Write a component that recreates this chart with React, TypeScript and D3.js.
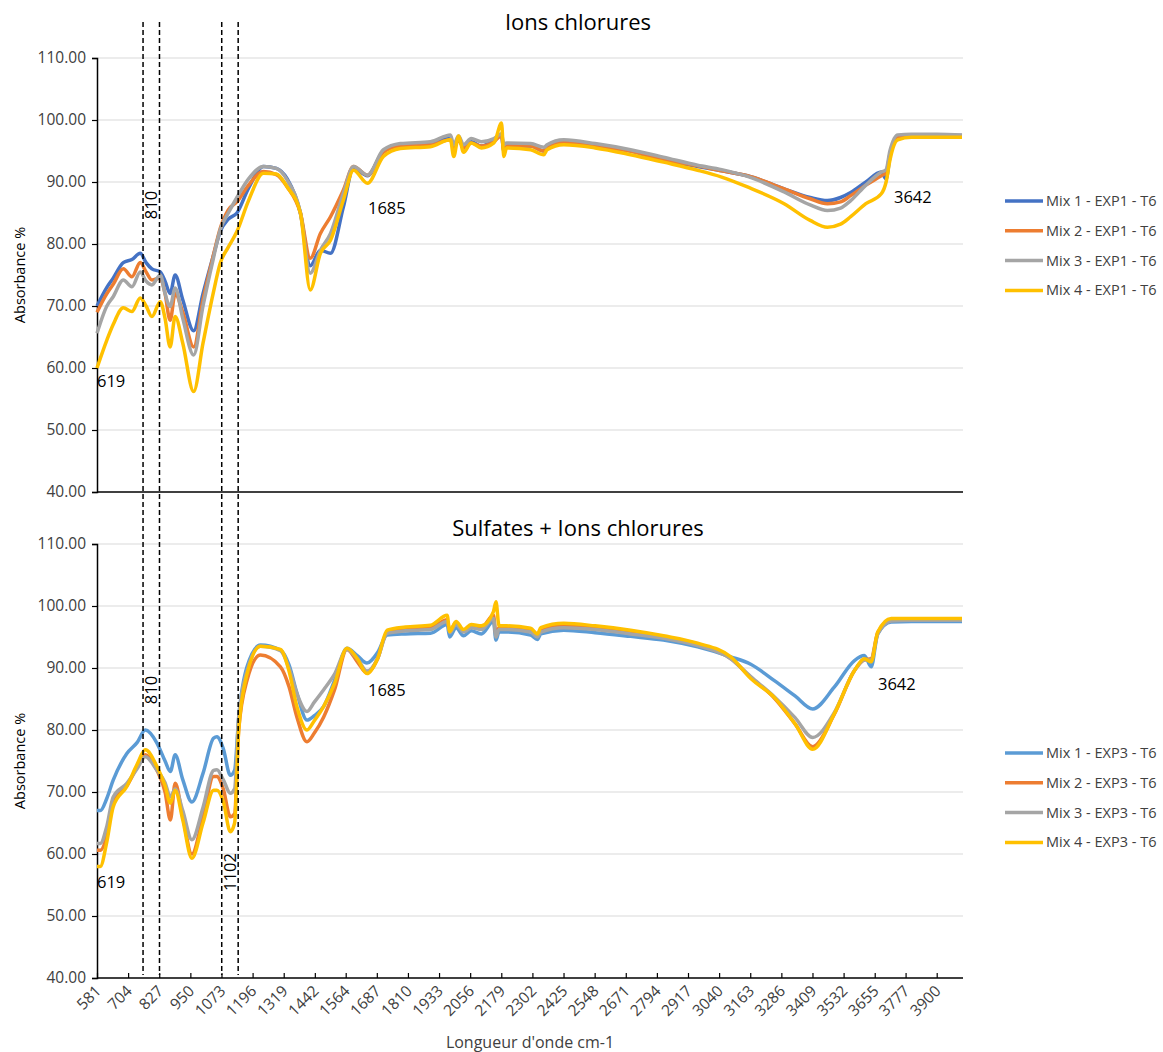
import React, { useEffect, useRef } from "react";
import * as d3 from "d3";

// wavenumbers (cm-1) for the top panel
const waveTop = [581, 620, 645, 685, 719, 752, 775, 798, 831, 850, 870, 890, 920, 963, 1000, 1040, 1068, 1100, 1134, 1180, 1239, 1290, 1333, 1385, 1424, 1464, 1504, 1555, 1595, 1650, 1713, 1780, 1899, 1978, 1991, 2010, 2030, 2060, 2100, 2150, 2180, 2189, 2200, 2295, 2347, 2360, 2426, 2550, 2690, 2820, 2955, 3050, 3152, 3297, 3400, 3468, 3520, 3560, 3620, 3681, 3700, 3715, 3746, 3800, 3900, 4000];

const exp1Mix1 = [70, 73, 74.5, 77, 77.5, 78.5, 77, 76, 75.5, 74, 72, 75, 71, 66, 72, 78, 82, 84, 85, 89, 92.5, 92.2, 90.5, 85, 76.5, 79, 78.5, 86, 92.3, 91, 95, 96, 96.3, 97, 95.5, 97, 95.5, 96.5, 95.8, 96.8, 97.5, 95, 95.8, 95.8, 95, 95.6, 96.5, 95.8, 95, 93.5, 92.5, 91.8, 91, 88.9, 87.5, 87, 87.5, 88.3, 90, 91.6, 90.5, 94, 97.4, 97.6, 97.6, 97.5];
const exp1Mix2 = [69, 72, 73.5, 76, 74.7, 77, 75.5, 74.2, 74.5, 72, 67.7, 72, 69, 63.4, 71, 78, 82.5, 85.5, 86.8, 89.5, 91.7, 91.2, 89.2, 85, 77.7, 81.7, 84.4, 88.7, 92.5, 91.1, 94.8, 95.8, 96, 96.8, 95.5, 96.8, 95.5, 96.3, 95.8, 96.5, 97.5, 95, 95.8, 95.8, 95, 95.5, 96.4, 95.8, 95, 93.6, 92.6, 91.8, 91, 88.9, 87.3, 86.5, 86.8, 87.8, 89.5, 91, 91.5, 94.5, 97.3, 97.5, 97.5, 97.4];
const exp1Mix3 = [65.6, 70, 71.5, 74.2, 73.1, 75.5, 74, 73.4, 75, 72, 69.9, 72.9, 68, 62.1, 70, 77.5, 82.3, 85, 87.5, 90.5, 92.5, 92.2, 90.3, 85, 75.3, 79, 81.7, 88.2, 92.5, 91.1, 95.2, 96.2, 96.5, 97.6, 96, 97.4, 96, 97, 96.5, 97, 97.8, 96, 96.3, 96.2, 95.6, 96, 96.8, 96.2, 95.2, 94, 92.7, 92, 90.9, 88.4, 86.3, 85.4, 85.8, 87, 89.5, 91.6, 92, 95, 97.6, 97.7, 97.7, 97.6];
const exp1Mix4 = [60, 64.5, 67, 69.7, 69.1, 71.3, 70, 68.3, 70.7, 68, 63.4, 68.3, 64, 56.2, 64, 72, 76.9, 79.5, 82, 87, 91.4, 91.3, 89.2, 85, 72.6, 78.5, 80.6, 87.1, 91.9, 89.8, 94.1, 95.4, 95.7, 96.8, 94.1, 97.4, 94.8, 96.3, 95.5, 96.3, 99.5, 94.1, 95.5, 95.2, 94.4, 95.2, 96, 95.5, 94.4, 93.2, 91.9, 90.8, 89.2, 86.5, 83.8, 82.7, 83.2, 84.4, 86.5, 88.1, 90, 93.5, 96.8, 97.2, 97.2, 97.2];

// wavenumbers (cm-1) for the bottom panel
const waveBottom = [581, 594, 620, 645, 699, 740, 772, 818, 850, 871, 890, 920, 956, 1000, 1042, 1055, 1080, 1108, 1125, 1141, 1174, 1227, 1306, 1340, 1371, 1411, 1440, 1477, 1520, 1569, 1610, 1648, 1690, 1728, 1800, 1899, 1965, 1975, 2000, 2030, 2060, 2100, 2148, 2158, 2170, 2200, 2295, 2322, 2335, 2426, 2550, 2690, 2820, 2955, 3086, 3165, 3257, 3340, 3410, 3495, 3575, 3614, 3641, 3667, 3720, 3800, 3900, 4000];

const exp3Mix1 = [67, 67, 69, 71.9, 76.2, 78, 80, 77.9, 75, 73.3, 76, 72, 68.4, 73, 78.7, 78.9, 77, 72.7, 73.5, 82, 90.2, 93.7, 92.9, 90.5, 86, 81.6, 82.3, 83.8, 88, 93.2, 92, 90.8, 92.5, 95.3, 95.5, 95.6, 97, 95, 96.5, 95.2, 96, 95.5, 97.5, 94.5, 95.8, 95.8, 95.3, 94.6, 95.5, 96.1, 95.7, 95.1, 94.5, 93.4, 91.8, 90.6, 88, 85.5, 83.4, 86.9, 91.2, 92, 90.2, 95.5, 97.4, 97.5, 97.5, 97.5];
const exp3Mix2 = [60.6, 60.6, 63, 68.5, 71, 74, 76, 73.5, 70, 65.5, 71.4, 66, 60, 66, 72.5, 72.5, 70.5, 66, 66.5, 80, 88, 92.1, 90.2, 87, 82.1, 78.1, 79.5, 82.1, 86.5, 93, 91, 89.2, 91.5, 95.8, 96.3, 96.5, 97.8, 96, 97.3, 96, 96.8, 96.5, 98.5, 95.5, 96.5, 96.5, 96.2, 95.5, 96, 96.8, 96.4, 95.8, 95, 93.8, 91.5, 88.5, 85.2, 81, 77.3, 82.5, 89.6, 91.3, 91.5, 95.7, 97.8, 97.9, 97.9, 97.9];
const exp3Mix3 = [61.7, 61.7, 64.5, 69.2, 71.4, 73.8, 75.7, 73.5, 71.5, 69.2, 70.5, 67, 62.3, 67.5, 73.5, 73.6, 72, 69.8, 70.5, 82, 89.5, 93.5, 92.8, 90, 85.9, 83, 84.5, 86.5, 89, 93, 91.5, 89.5, 91.5, 95.6, 96, 96.2, 97.5, 95.7, 97, 95.8, 96.5, 96.2, 98, 95, 96.2, 96.2, 95.8, 95, 95.8, 96.5, 96.2, 95.5, 94.8, 93.6, 91.5, 88.6, 85.4, 82, 78.8, 82.8, 89.6, 91.3, 91.3, 95.5, 97.6, 97.7, 97.7, 97.7];
const exp3Mix4 = [58, 58, 62, 67.6, 70.9, 74.5, 76.8, 74.1, 71, 68.2, 70.3, 65.5, 59.3, 65, 70.3, 70.3, 68.5, 63.6, 65, 80, 89, 93.5, 93, 89.5, 83.8, 80, 81.5, 83.8, 87.5, 93.2, 91.5, 89.1, 91.5, 96.1, 96.6, 96.9, 98.5, 95.9, 97.5, 96.2, 97, 96.8, 99.1, 100.7, 96.8, 96.8, 96.4, 95.5, 96.5, 97.2, 96.8, 96.1, 95.2, 94, 91.8, 88.3, 85.3, 81, 76.9, 82.6, 89.6, 91.5, 91, 95.8, 98, 98, 98, 98];

const xTicks = [581, 704, 827, 950, 1073, 1196, 1319, 1442, 1564, 1687, 1810, 1933, 2056, 2179, 2302, 2425, 2548, 2671, 2794, 2917, 3040, 3163, 3286, 3409, 3532, 3655, 3777, 3900];
const yTicks = [40, 50, 60, 70, 80, 90, 100, 110];
const markers = [763, 828, 1074, 1139];

const topNames = ["Mix 1 - EXP1 - T6", "Mix 2 - EXP1 - T6", "Mix 3 - EXP1 - T6", "Mix 4 - EXP1 - T6"];
const bottomNames = ["Mix 1 - EXP3 - T6", "Mix 2 - EXP3 - T6", "Mix 3 - EXP3 - T6", "Mix 4 - EXP3 - T6"];
const topColors = ["#4472C4", "#ED7D31", "#A5A5A5", "#FFC000"];
const bottomColors = ["#5B9BD5", "#ED7D31", "#A5A5A5", "#FFC000"];

const FONT = "Open Sans, Liberation Sans, sans-serif";

const App = () => {
  const ref = useRef(null);

  useEffect(() => {
    document.body.style.margin = "0";
    const svg = d3.select(ref.current);
    svg.selectAll("*").remove();

    const x = d3.scaleLinear().domain([581, 4000]).range([97, 962]);

    const panels = [
      { top: 58, title: "Ions chlorures", titleY: 22, wave: waveTop, series: [exp1Mix1, exp1Mix2, exp1Mix3, exp1Mix4], names: topNames, colors: topColors, legendY: 201, ann: { y810: 205, y619: 381, y1685: 208, x3642: 894, y3642: 197 } },
      { top: 544, title: "Sulfates + Ions chlorures", titleY: 528, wave: waveBottom, series: [exp3Mix1, exp3Mix2, exp3Mix3, exp3Mix4], names: bottomNames, colors: bottomColors, legendY: 753, ann: { y810: 690, y619: 882, y1685: 690, x3642: 878, y3642: 684 } },
    ];

    panels.forEach((p, pi) => {
      const y = d3.scaleLinear().domain([40, 110]).range([p.top + 434, p.top]);
      const g = svg.append("g");

      // gridlines
      g.selectAll(".grid")
        .data(yTicks.filter((t) => t > 40))
        .enter()
        .append("line")
        .attr("x1", x.range()[0])
        .attr("x2", 963)
        .attr("y1", (d) => y(d))
        .attr("y2", (d) => y(d))
        .attr("stroke", "#D9D9D9")
        .attr("stroke-width", 1);

      // y axis
      const yAxis = d3.axisLeft(y).tickValues(yTicks).tickFormat(d3.format(".2f")).tickSize(5).tickPadding(6);
      const ya = g.append("g").attr("transform", `translate(${x.range()[0]},0)`).call(yAxis);
      ya.select(".domain").attr("stroke", "#000").attr("stroke-width", 1.5);
      ya.selectAll(".tick line").attr("stroke", "#000").attr("stroke-width", 1.2);
      ya.selectAll("text").attr("font-family", FONT).attr("font-size", 15.5).attr("fill", "#404040");

      // x axis
      const xa = g.append("g").attr("transform", `translate(0,${y(40)})`);
      if (pi === 1) {
        xa.call(d3.axisTop(x).tickValues(xTicks).tickSize(5).tickFormat(() => ""));
        xa.selectAll(".tick line").attr("stroke", "#000").attr("stroke-width", 1.2);
        xa.select(".domain").remove();
        xa.selectAll(".lbl")
          .data(xTicks)
          .enter()
          .append("text")
          .attr("transform", (d) => `translate(${x(d) + 5},${14}) rotate(-45)`)
          .attr("text-anchor", "end")
          .attr("font-family", FONT)
          .attr("font-size", 15.5)
          .attr("fill", "#404040")
          .text((d) => d);
      }
      xa.append("line").attr("x1", x.range()[0]).attr("x2", 963).attr("stroke", "#000").attr("stroke-width", 1.5);

      // series
      const line = d3
        .line<number>()
        .x((d, i) => x(p.wave[i]))
        .y((d) => y(d))
        .curve(d3.curveMonotoneX);

      p.series.forEach((s, i) => {
        g.append("path")
          .attr("d", line(s))
          .attr("fill", "none")
          .attr("stroke", p.colors[i])
          .attr("stroke-width", 3.5)
          .attr("stroke-linejoin", "round");
      });

      // title
      g.append("text")
        .attr("x", 578)
        .attr("y", p.titleY)
        .attr("dy", "0.35em")
        .attr("text-anchor", "middle")
        .attr("font-family", FONT)
        .attr("font-size", 22)
        .attr("fill", "#000")
        .text(p.title);

      // y title
      g.append("text")
        .attr("transform", `translate(20,${p.top + 217}) rotate(-90)`)
        .attr("text-anchor", "middle")
        .attr("dy", "0.35em")
        .attr("font-family", FONT)
        .attr("font-size", 14.5)
        .attr("fill", "#000")
        .text("Absorbance %");

      // legend
      p.names.forEach((n, i) => {
        const ly = p.legendY + i * 29.8;
        g.append("line").attr("x1", 1005).attr("x2", 1043).attr("y1", ly).attr("y2", ly).attr("stroke", p.colors[i]).attr("stroke-width", 3.5);
        g.append("text")
          .attr("x", 1046)
          .attr("y", ly)
          .attr("dy", "0.35em")
          .attr("font-family", FONT)
          .attr("font-size", 14.5)
          .attr("fill", "#404040")
          .text(n);
      });

      // annotations
      const a = p.ann;
      const txt = (tx, ty, s, rot = false) =>
        g.append("text")
          .attr("transform", `translate(${tx},${ty})${rot ? " rotate(-90)" : ""}`)
          .attr("text-anchor", rot ? "middle" : "start")
          .attr("dy", "0.35em")
          .attr("font-family", FONT)
          .attr("font-size", 16.5)
          .attr("fill", "#000")
          .text(s);
      txt(151, a.y810, "810", true);
      txt(97, a.y619, "619");
      txt(368, a.y1685, "1685");
      txt(a.x3642, a.y3642, "3642");
      if (pi === 1) txt(230, 872, "1102", true);
    });

    // vertical dashed markers across both panels
    svg.selectAll(".marker")
      .data(markers)
      .enter()
      .append("line")
      .attr("x1", (d) => x(d))
      .attr("x2", (d) => x(d))
      .attr("y1", 22)
      .attr("y2", 975)
      .attr("stroke", "#000")
      .attr("stroke-width", 1.5)
      .attr("stroke-dasharray", "5,3");

    svg.append("text")
      .attr("x", 530)
      .attr("y", 1042)
      .attr("dy", "0.35em")
      .attr("text-anchor", "middle")
      .attr("font-family", FONT)
      .attr("font-size", 16)
      .attr("fill", "#404040")
      .text("Longueur d'onde cm-1");
  }, []);

  return <svg ref={ref} width={1163} height={1052} style={{ display: "block", background: "#fff" }} />;
};

export default App;
